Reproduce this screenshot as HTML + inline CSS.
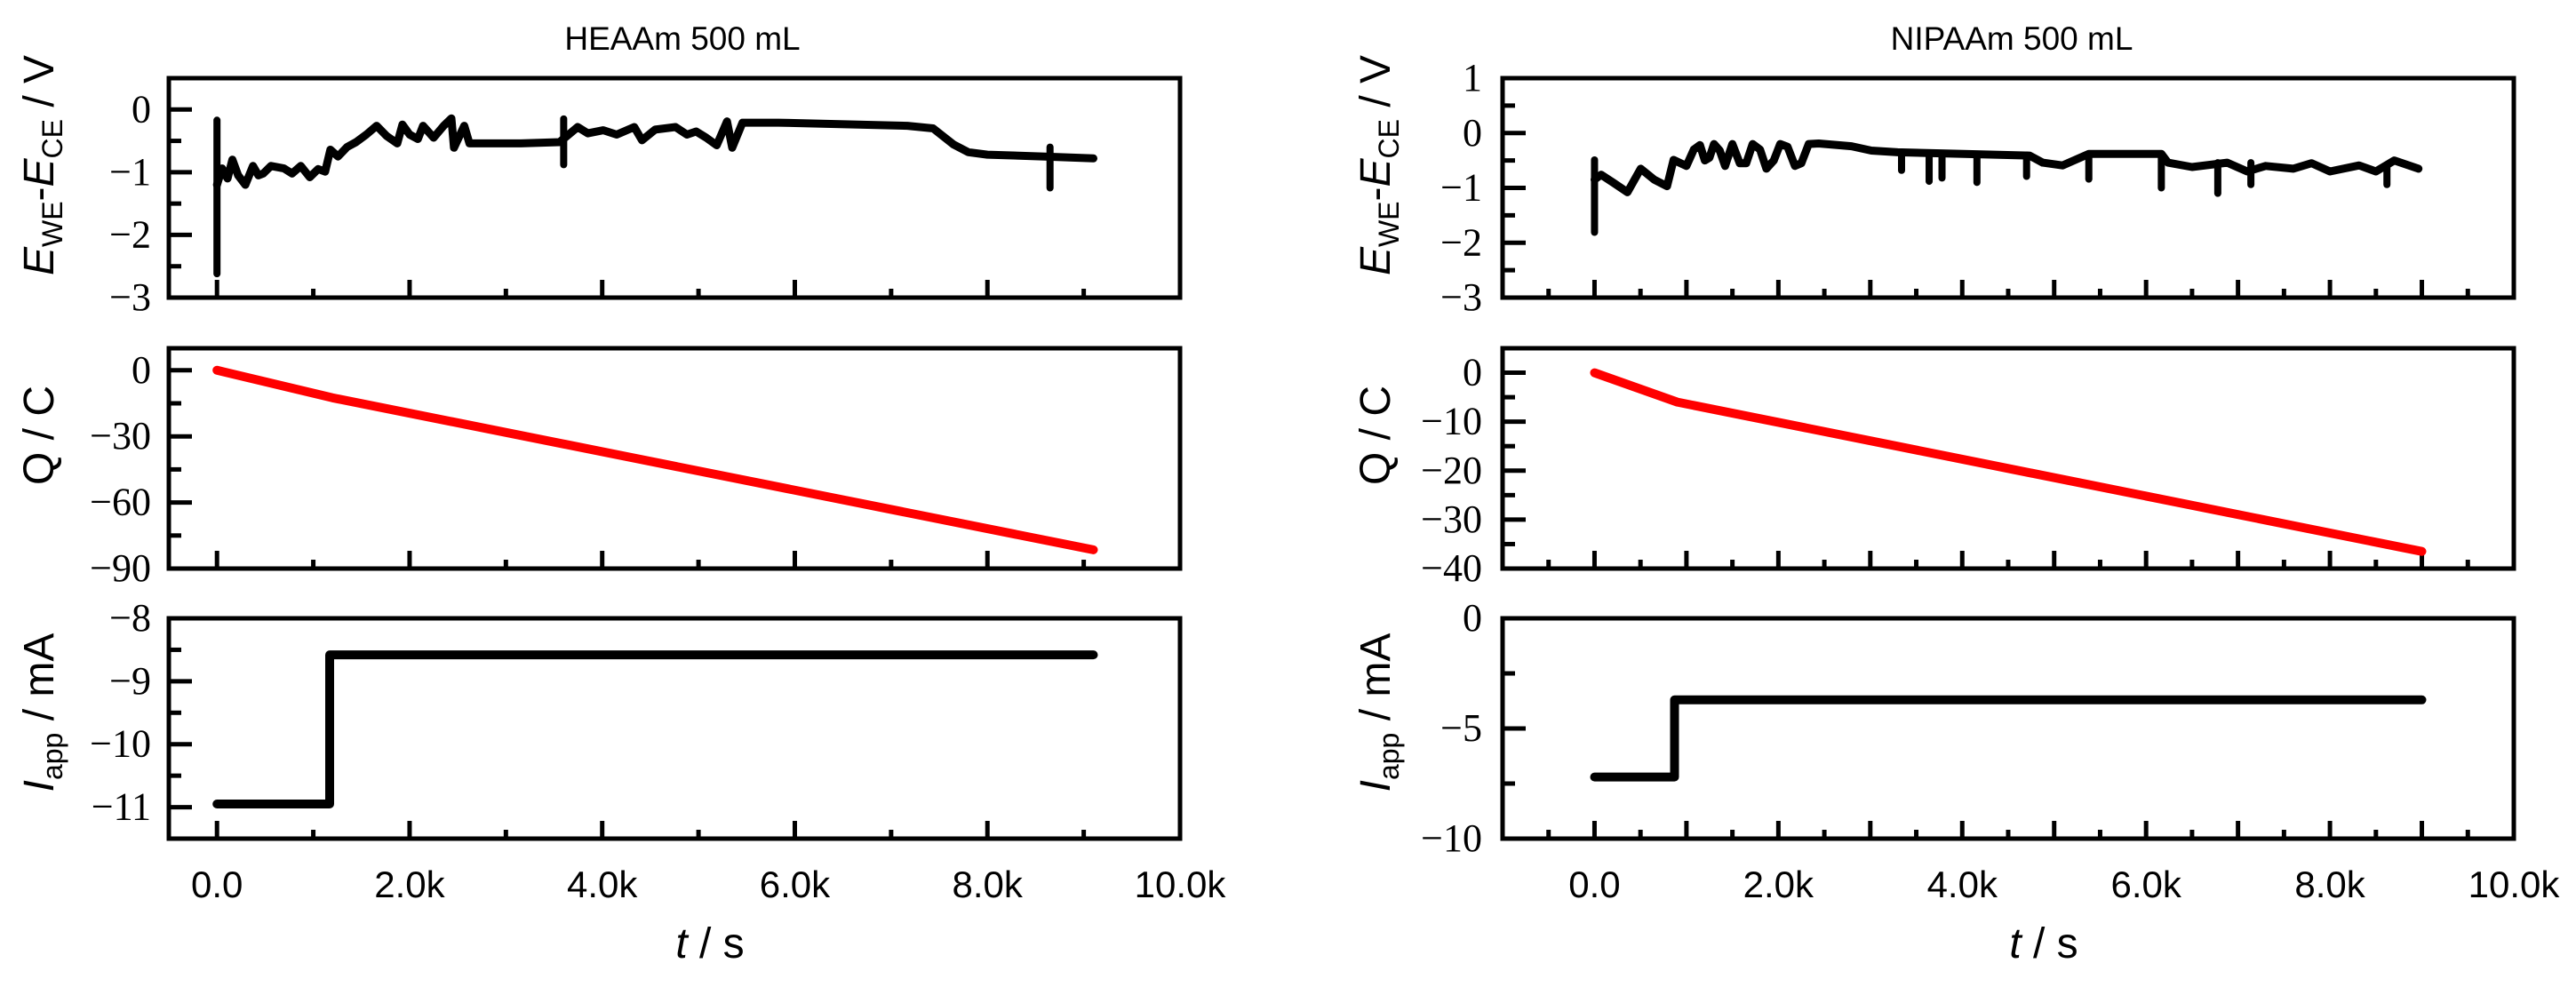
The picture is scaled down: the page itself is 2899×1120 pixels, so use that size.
<!DOCTYPE html>
<html><head><meta charset="utf-8"><style>
html,body{margin:0;padding:0;background:#fff;width:2899px;height:1120px;overflow:hidden}
svg{display:block}
.tl{font-family:"Liberation Serif",serif;font-size:44px}
.xl{font-family:"Liberation Sans",sans-serif;font-size:42px}
.ti{font-family:"Liberation Sans",sans-serif;font-size:37px}
.al{font-family:"Liberation Sans",sans-serif;font-size:48px}
</style></head><body>
<svg id="fig" width="2899" height="1120" viewBox="0 0 2899 1120" xmlns="http://www.w3.org/2000/svg"></svg>
<script>
// ---- data ----
const leftET=[0,53,110,160,220,294,374,430,481,560,695,780,870,963,1050,1123,1177,1257,1350,1444,1550,1658,1760,1872,1926,2000,2086,2140,2250,2354,2434,2461,2568,2621,3156,3557,3745,3850,4012,4150,4333,4413,4550,4761,4880,4975,5080,5189,5296,5350,5457,5831,7169,7436,7650,7800,8000,8600,9100];
const leftEV=[-1.2,-0.94,-1.1,-0.80,-1.05,-1.2,-0.9,-1.05,-1.02,-0.9,-0.94,-1.02,-0.9,-1.08,-0.95,-0.99,-0.64,-0.75,-0.6,-0.52,-0.4,-0.26,-0.42,-0.54,-0.24,-0.4,-0.47,-0.26,-0.45,-0.26,-0.14,-0.61,-0.26,-0.54,-0.54,-0.52,-0.28,-0.38,-0.33,-0.4,-0.28,-0.49,-0.32,-0.28,-0.4,-0.35,-0.45,-0.57,-0.19,-0.61,-0.21,-0.21,-0.26,-0.30,-0.56,-0.68,-0.72,-0.75,-0.78];
const leftSpikeT=[0,3600,8650];
const leftSpikeTop=[-0.17,-0.15,-0.6];
const leftSpikeBot=[-2.62,-0.88,-1.25];
const rightET=[0,72,200,358,502,650,789,860,1000,1080,1147,1200,1250,1300,1362,1420,1500,1580,1650,1720,1800,1870,1950,2020,2100,2180,2250,2330,2438,2796,3011,3298,4015,4732,4876,5091,5377,6166,6238,6500,6883,7100,7300,7600,7800,8000,8317,8500,8700,8963];
const rightEV=[-0.85,-0.76,-0.9,-1.08,-0.65,-0.85,-0.97,-0.49,-0.6,-0.3,-0.22,-0.5,-0.45,-0.2,-0.32,-0.6,-0.2,-0.55,-0.55,-0.2,-0.3,-0.65,-0.5,-0.2,-0.25,-0.6,-0.55,-0.2,-0.19,-0.24,-0.32,-0.35,-0.38,-0.41,-0.54,-0.59,-0.38,-0.38,-0.54,-0.62,-0.54,-0.7,-0.6,-0.65,-0.55,-0.7,-0.59,-0.7,-0.5,-0.65];
const rightSpikeT=[0,3340,3640,3780,4160,4700,5377,6166,6780,7140,8620];
const rightSpikeTop=[-0.49,-0.35,-0.38,-0.38,-0.4,-0.4,-0.38,-0.38,-0.54,-0.54,-0.59];
const rightSpikeBot=[-1.81,-0.68,-0.88,-0.82,-0.9,-0.79,-0.84,-1.0,-1.1,-0.94,-0.94];
const leftQT=[0,1200,9100];
const leftQV=[0,-12.5,-81.5];
const rightQT=[0,900,9000];
const rightQV=[0,-6,-36.5];
const leftIT=[0,1170,1170,9100];
const leftIV=[-10.95,-10.95,-8.58,-8.58];
const rightIT=[0,870,870,9000];
const rightIV=[-7.2,-7.2,-3.7,-3.7];
const xTickLabels=["0.0","2.0k","4.0k","6.0k","8.0k","10.0k"];
const xTickVals=[0,2000,4000,6000,8000,10000];

const NS="http://www.w3.org/2000/svg";
const svg=document.getElementById('fig');
function el(tag,attrs,parent){const e=document.createElementNS(NS,tag);for(const k in attrs)e.setAttribute(k,attrs[k]);(parent||svg).appendChild(e);return e;}
function fmt(v){return (v<0?"\u2212":"")+Math.abs(v);}

const cols=[
 {x0:190,x1:1328,tmin:-500,tmax:10000,minor:1000,major:2000,title:"HEAAm 500 mL",tcx:768,labx:44,tlx:170,
  E:[leftET,leftEV,leftSpikeT,leftSpikeTop,leftSpikeBot],Q:[leftQT,leftQV],I:[leftIT,leftIV],
  yr:[[-3,0.5,1,0.5],[-90,10,30,15],[-11.5,-8,1,0.5]],name:"heaam"},
 {x0:1691,x1:2829,tmin:-1000,tmax:10000,minor:500,major:1000,title:"NIPAAm 500 mL",tcx:2264,labx:1548,tlx:1668,
  E:[rightET,rightEV,rightSpikeT,rightSpikeTop,rightSpikeBot],Q:[rightQT,rightQV],I:[rightIT,rightIV],
  yr:[[-3,1,1,0.5],[-40,5,10,5],[-10,0,5,2.5]],name:"nipaam"}
];
const rows=[[88,335],[392,640],[696,944]];

cols.forEach(c=>{
  const sx=t=>c.x0+(t-c.tmin)/(c.tmax-c.tmin)*(c.x1-c.x0);
  const t=el('text',{x:c.tcx,y:56,'text-anchor':'middle',class:'ti'});
  t.textContent=c.title;
  
  
  rows.forEach((r,ri)=>{
    const [y0,y1]=r;const [ymin,ymax,maj,mn]=c.yr[ri];
    const sy=v=>y1-(v-ymin)/(ymax-ymin)*(y1-y0);
    const g=el('g',{});
    
    
    for(let v=ymin;v<=ymax+1e-9;v+=mn){
      const isMaj=Math.abs(Math.round(v/maj)*maj-v)<1e-6;
      const yy=sy(v);
      if(!(yy<=y0+2||yy>=y1-2)) el('line',{x1:c.x0,x2:c.x0+(isMaj?26:14),y1:yy,y2:yy,stroke:'#000','stroke-width':5},g);
      if(isMaj){const tx=el('text',{x:c.tlx,y:yy+14,'text-anchor':'end',class:'tl'},g);tx.textContent=fmt(Math.round(v*10)/10);
        
        }
    }
    for(let v=Math.ceil(c.tmin/c.minor)*c.minor;v<c.tmax;v+=c.minor){
      if(v<c.tmin+1)continue;
      const isMaj=v%c.major===0;const xx=sx(v);
      el('line',{x1:xx,x2:xx,y1:y1,y2:y1-(isMaj?20:10),stroke:'#000','stroke-width':5},g);
    }
    let T,V,col='#000';
    if(ri===0){T=c.E[0];V=c.E[1];}else if(ri===1){T=c.Q[0];V=c.Q[1];col='#ff0000';}else{T=c.I[0];V=c.I[1];}
    const pts=T.map((tt,i)=>sx(tt).toFixed(1)+','+sy(V[i]).toFixed(1)).join(' ');
    const pl=el('polyline',{points:pts,fill:'none',stroke:col,'stroke-width':ri===0?9:10,'stroke-linejoin':'round','stroke-linecap':'round'},g);
    
    
    if(ri===0){
      c.E[2].forEach((tt,i)=>{
        const s=el('line',{x1:sx(tt),x2:sx(tt),y1:sy(c.E[3][i]),y2:sy(c.E[4][i]),stroke:'#000','stroke-width':8,'stroke-linecap':'round'},g);
        
        
      });
    }
    const fr=el('rect',{x:c.x0,y:y0,width:c.x1-c.x0,height:y1-y0,fill:'none',stroke:'#000','stroke-width':5},g);
    
    
    const cy=[186,490,802][ri];
    const lab=el('text',{x:c.labx+16,y:cy,'text-anchor':'middle',class:'al',transform:`rotate(-90 ${c.labx+16} ${cy})`},g);
    
    
    if(ri===0){
      lab.innerHTML='<tspan font-style="italic">E</tspan><tspan font-size="32" dy="10">WE</tspan><tspan dy="-10">-</tspan><tspan font-style="italic">E</tspan><tspan font-size="32" dy="10">CE</tspan><tspan dy="-10"> / V</tspan>';
    }else if(ri===1){lab.textContent='Q / C';}
    else{lab.innerHTML='<tspan font-style="italic">I</tspan><tspan font-size="32" dy="10">app</tspan><tspan dy="-10"> / mA</tspan>';}
  });
  xTickVals.forEach((v,i)=>{
    const tx=el('text',{x:sx(v),y:1010,'text-anchor':'middle',class:'xl'});
    tx.textContent=xTickLabels[i];
    
    
  });
  const xt=el('text',{x:(c.x0+c.x1)/2+40,y:1078,'text-anchor':'middle',class:'al'});
  xt.innerHTML='<tspan font-style="italic">t</tspan> / s';
  
  
});
</script>
</body></html>
